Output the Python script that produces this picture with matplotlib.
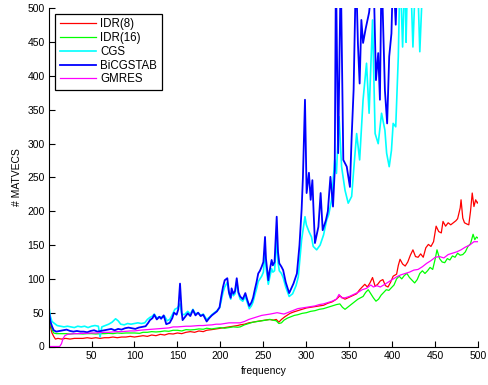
import matplotlib
matplotlib.use("Agg")
import matplotlib.pyplot as plt

plt.rcParams['font.family'] = ['Liberation Sans', 'DejaVu Sans']

# IDR(8)
idr8_f = [1, 2, 4, 6, 8, 11, 15, 20, 25, 30, 35, 40, 45, 50, 55, 60, 65, 70, 75, 80, 85, 90, 95, 100,
          105, 110, 115, 120, 125, 130, 135, 140, 145, 150, 155, 160, 165, 170, 175, 180, 184, 190, 195,
          200, 205, 210, 215, 220, 223, 228, 233, 238, 242, 247, 252, 257, 261.5, 265, 268, 271, 275, 281,
          285, 290, 295, 300, 305, 310, 315, 320, 325, 330, 335, 339, 342, 345, 350, 355, 358.5, 362, 365,
          368, 371, 374, 377, 380, 383, 386, 389, 392, 395, 398, 401, 405, 407, 409, 412, 415, 418, 421,
          424, 427, 430, 433, 436, 439, 442, 445, 448, 451, 454, 457, 459, 462, 465, 468, 471, 474, 476,
          479, 480, 482, 484, 487, 489, 491, 493, 495, 497, 499, 500]
idr8_v = [40, 30, 20, 15, 11, 12, 11, 12, 11, 12, 12, 12, 13, 12, 13, 12, 13, 13, 14, 13, 14, 14, 15, 14,
          15, 16, 15, 17, 16, 18, 17, 19, 18.5, 20, 19, 21, 22, 21, 23, 22, 24, 25, 26,
          27, 28, 29, 30, 31, 32, 33, 35, 36, 37, 38, 39, 40, 39, 40, 36, 40, 44, 49,
          51, 53, 55, 57, 58, 59, 60, 61, 64, 66, 70, 75, 72, 70, 73, 76, 78, 84, 88,
          92, 88, 94, 102, 89, 92, 97, 99, 90, 88, 95, 104, 107, 120, 129, 122, 119, 125, 135,
          143, 133, 132, 137, 132, 146, 151, 148, 155, 178, 170, 168, 185, 178, 183, 180, 183, 186, 189,
          205, 217, 190, 183, 181, 180, 200, 227, 207, 217, 212, 214]

# IDR(16)
idr16_f = [1, 2, 4, 6, 9, 13, 17, 21, 25, 30, 35, 40, 45, 50, 55, 60, 65, 70, 75, 80, 85, 90, 95, 100,
           106, 110, 115, 120, 125, 130, 135, 140, 145, 150, 155, 160, 165, 170, 175, 180, 184, 190, 195,
           200, 205, 210, 215, 220, 223, 228, 233, 238, 243, 248, 253, 258, 261, 265, 268, 271, 274, 278,
           282, 286, 290, 295, 300, 305, 310, 315, 320, 325, 330, 335, 339, 342, 345, 348, 352, 356, 360,
           363, 366, 369, 372, 375, 378, 381, 384, 387, 390, 393, 396, 399, 402, 405, 408, 411, 414, 417,
           420, 423, 426, 429, 432, 435, 438, 441, 444, 447, 450, 452, 455, 458, 461, 464, 467, 470, 473,
           476, 479, 482, 485, 488, 491, 494, 496, 498, 500]
idr16_v = [42, 35, 25, 20, 19, 19, 19, 19, 18.5, 19, 19, 18.5, 19, 19, 18.5, 19, 19, 19.5, 19, 20, 19.5, 20, 20, 20,
           19.5, 21, 21, 22, 21.5, 22, 23, 22.5, 24, 24, 23, 25, 24.5, 25, 26, 25.5, 27, 26, 27,
           28, 27, 28, 29, 28.5, 29, 32, 34, 36, 37, 38, 39, 40, 39, 38, 34, 35, 39, 42,
           44, 46, 47, 49, 50, 52, 53, 55, 56, 58, 60, 62, 63, 58, 55, 58, 62, 66, 70,
           72, 74, 80, 84, 78, 72, 67, 70, 76, 80, 84, 83, 87, 91, 100, 104, 100, 105, 108,
           102, 98, 94, 99, 108, 112, 108, 112, 117, 114, 130, 143, 130, 125, 124, 130, 128, 134, 132,
           138, 135, 136, 140, 148, 152, 166, 158, 162, 160]

# CGS
cgs_f = [1, 2, 4, 7, 10, 14, 18, 22, 26, 30, 34, 38, 42, 46, 50, 54, 58, 60, 62, 66, 70, 74, 78, 81, 84,
         88, 92, 96, 100, 104, 108, 112, 115, 118, 121, 123, 126, 129, 132, 135, 138, 141, 144, 147, 150,
         153, 155, 158, 162, 165, 168, 171, 174, 177, 180, 184, 187, 190, 193, 196, 199, 201, 203, 205,
         208, 210, 212, 213, 215, 217, 219, 221, 223, 226, 229, 231, 233.6, 236, 238, 240, 242, 244, 246,
         248, 250, 251.9, 253, 255.7, 257, 259.6, 261, 263, 265.5, 267, 268.5, 271, 273, 276, 280, 284,
         288, 290.6, 294.5, 298.4, 300, 303, 306, 308, 312, 316, 320, 323.6, 326, 329.4, 333, 335, 338,
         341, 345, 348.7, 352.7, 355, 358.5, 362, 366, 370, 373, 377, 380, 383.6, 387.5, 391.4, 393.4,
         396.4, 399, 401, 404, 407, 409, 412, 414.7, 416, 418, 421, 424, 427.4, 430, 432, 436, 500]
cgs_v = [55, 45, 37, 34, 31, 30, 29, 30, 29, 28, 30, 29, 30, 28, 30, 31, 30, 14, 29, 31, 33, 36, 41, 38, 33,
         32, 34, 33, 34, 35, 34, 35, 40, 43, 45, 48, 42, 44, 43, 45, 38, 40, 47, 55, 57,
         63, 48, 47, 52, 48, 55, 48, 50, 46, 48, 40, 43, 47, 50, 53, 57, 68, 80, 88,
         95, 78, 70, 80, 75, 78, 96, 78, 70, 67, 74, 66, 56, 60, 66, 76, 85, 96, 100,
         104, 110, 140, 118, 92, 100, 115, 110, 112, 160, 125, 112, 108, 102, 88, 74, 78,
         90, 103, 158, 192, 180, 170, 162, 148, 143, 150, 165, 187, 195, 217, 276, 256, 340,
         266, 231, 212, 222, 260, 315, 276, 365, 419, 345, 483, 315, 300, 345, 320, 286,
         266, 290, 330, 325, 429, 560, 443, 560, 450, 560, 560, 443, 560, 520, 436, 560, 600]

# BiCGSTAB
bicg_f = [1, 2, 4, 6, 9, 13, 17, 21, 25, 29, 33, 37, 41, 45, 49, 53, 57, 61, 65, 69, 73, 77, 81, 85, 89,
          93, 97, 101, 105, 109, 113, 116, 118, 121, 123, 126, 129, 131, 134, 137, 141, 144, 146, 149, 151,
          153, 155, 156, 159, 162, 165, 168, 171, 174, 177, 180, 184, 187, 190, 193, 196, 199, 201, 203,
          205, 208, 210, 212, 213, 215, 217, 219, 221, 223, 226, 229, 231, 233.6, 236, 238, 240, 242, 244,
          246, 248, 250, 251.9, 253, 255.7, 257, 259.6, 261, 263, 265.5, 267, 268.5, 271, 273, 276, 280,
          285, 289, 292, 294.5, 296, 298.4, 300.3, 303, 305, 307, 308.5, 310, 312, 314, 316.6, 319, 322.8,
          325, 328, 331, 333, 334.4, 337, 340, 343, 347, 350.7, 352.7, 355, 357.7, 360, 362, 364, 366, 369,
          373, 376, 378, 381, 383.6, 385.6, 387.5, 391.4, 394, 396.4, 399, 401, 404, 406, 500]
bicg_v = [48, 38, 30, 24, 22, 23, 24, 25, 23, 22, 23, 22, 22, 21, 23, 24, 22, 23, 24, 25, 26, 24, 26, 25, 27,
          28, 27, 26, 28, 29, 30, 35, 39, 42, 47, 40, 44, 41, 46, 33, 35, 42, 50, 47, 55,
          93, 50, 39, 44, 49, 45, 54, 46, 50, 45, 47, 37, 42, 46, 49, 52, 58, 74, 88,
          98, 101, 80, 72, 86, 78, 82, 101, 80, 74, 70, 79, 70, 60, 65, 72, 84, 95, 108,
          112, 118, 125, 162, 130, 98, 110, 128, 120, 125, 192, 140, 123, 118, 113, 95, 79,
          93, 108, 150, 203, 250, 365, 227, 257, 217, 246, 197, 153, 165, 177, 227, 172, 187,
          200, 251, 207, 260, 560, 286, 560, 276, 266, 236, 310, 380, 560, 448, 389, 483, 449, 470,
          494, 530, 560, 394, 434, 365, 560, 379, 330, 429, 463, 560, 476, 560, 600]

# GMRES
gmres_f = [1, 5, 10, 13, 15, 17, 19, 22, 26, 30, 35, 40, 45, 50, 55, 60, 65, 70, 75, 80, 85, 90, 95, 100,
           106, 110, 115, 120, 125, 130, 135, 140, 145, 150, 155, 160, 165, 170, 175, 180, 184, 190, 195,
           200, 205, 210, 215, 220, 223, 228, 233, 238, 243, 248, 253, 258, 262, 266, 270, 274, 278, 282,
           286, 290, 295, 300, 305, 310, 315, 320, 325, 330, 335, 338, 341, 345, 350, 355, 360, 365, 370,
           375, 378, 382, 386, 390, 395, 400, 405, 410, 415, 420, 425, 430, 435, 440, 445, 450, 455, 460,
           465, 470, 475, 480, 485, 490, 495, 500]
gmres_v = [0, 0, 0, 0, 4, 12, 16, 18, 18.5, 19, 19, 19.5, 19.5, 20, 20, 20.5, 21, 21, 21.5, 22, 22, 22.5, 23, 23,
           24, 24.5, 25, 25.5, 26, 26.5, 27, 27.5, 29, 29, 29.5, 30, 30, 30.5, 31, 31, 31.5, 32, 33,
           33, 34, 35, 35, 35, 35, 37, 40, 42, 44, 46, 47, 48, 49, 50, 49, 48, 50, 52,
           54, 56, 57, 58, 59, 60, 62, 63, 65, 67, 70, 77, 72, 72, 74, 77, 80, 84, 86,
           91, 88, 90, 88, 91, 95, 99, 103, 106, 108, 110, 113, 114, 118, 123, 127, 132, 133, 131,
           136, 138, 140, 143, 147, 150, 155, 155]

fig = plt.figure(figsize=(4.89, 3.85), dpi=100)
ax = fig.add_axes([0.101, 0.1, 0.877, 0.878])

ax.plot(idr8_f, idr8_v, color='#ff0000', lw=0.9, label='IDR(8)')
ax.plot(idr16_f, idr16_v, color='#00ff00', lw=0.9, label='IDR(16)')
ax.plot(cgs_f, cgs_v, color='#00ffff', lw=1.2, label='CGS')
ax.plot(bicg_f, bicg_v, color='#0000ff', lw=1.3, label='BiCGSTAB')
ax.plot(gmres_f, gmres_v, color='#ff00ff', lw=0.9, label='GMRES')

ax.set_xlim(1, 500)
ax.set_ylim(0, 500)
ax.set_xticks(range(50, 501, 50))
ax.set_yticks(range(0, 501, 50))
ax.spines['top'].set_visible(False)
ax.spines['right'].set_visible(False)
ax.tick_params(direction='in', length=4, width=0.8, labelsize=7.5)
ax.set_xlabel('frequency', fontsize=7.5, labelpad=3)
ax.set_ylabel('# MATVECS', fontsize=7.5)

leg = ax.legend(loc='upper left', bbox_to_anchor=(0.013, 0.984), borderaxespad=0,
                fontsize=8.3, fancybox=False, framealpha=1, edgecolor='black',
                handlelength=3.2, handletextpad=0.35, labelspacing=0.15, borderpad=0.4)
leg.get_frame().set_linewidth(0.9)

fig.savefig('out.png', dpi=100)
